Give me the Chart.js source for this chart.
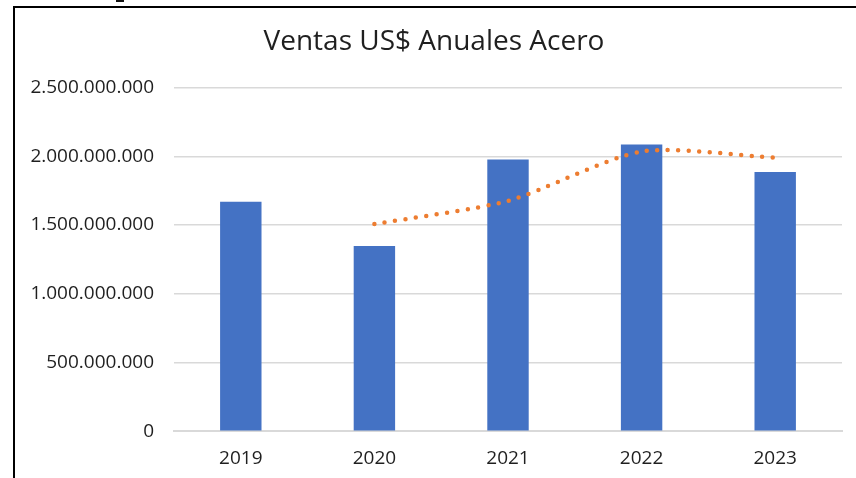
<!DOCTYPE html>
<html>
<head>
<meta charset="utf-8">
<script src="https://cdn.jsdelivr.net/npm/chart.js@4"></script>
<style>
  html, body { margin: 0; padding: 0; background: #fff; overflow: hidden; }
  #wrap { position: relative; width: 856px; height: 478px; }
  #frame { position: absolute; left: 13px; top: 6px; width: 900px; height: 500px; border-left: 2px solid #000; border-top: 2px solid #000; }
  #mark { position: absolute; left: 116px; top: 0; width: 8px; height: 2px; background: #111; }
  canvas { position: absolute; left: 0; top: 0; }
</style>
</head>
<body>
<div id="wrap">
  <div id="frame"></div>
  <div id="mark"></div>
  <canvas id="chart" width="856" height="478"></canvas>
</div>
<script>
// valores
var years = ['2019', '2020', '2021', '2022', '2023'];
var ventas = [1669000000, 1347000000, 1977000000, 2086000000, 1886000000];
// media movil (2 periodos) tal como se ve en la linea punteada
var tendencia = [null, 1507000000, 1676000000, 2035000000, 1990000000];
var yTicks = [0, 500000000, 1000000000, 1500000000, 2000000000, 2500000000];

function puntos(v) {
  return String(v).replace(/\B(?=(\d{3})+(?!\d))/g, '.');
}

new Chart(document.getElementById('chart'), {
  type: 'bar',
  data: {
    labels: years,
    datasets: [{
      type: 'line',
      data: tendencia,
      borderColor: '#ED7D31',
      borderWidth: 4.5,
      borderDash: [0, 10.5],
      borderCapStyle: 'round',
      pointRadius: 0,
      tension: 0.25,
      fill: false,
      order: 0
    }, {
      data: ventas,
      backgroundColor: '#4472C4',
      barPercentage: 0.31,
      categoryPercentage: 1,
      order: 1
    }]
  },
  options: {
    responsive: false,
    animation: false,
    layout: { padding: { left: 26, right: 14, top: 0, bottom: 0 } },
    plugins: {
      legend: { display: false },
      tooltip: { enabled: false },
      title: {
        display: true,
        text: 'Ventas US$ Anuales Acero',
        color: '#1f1f1f',
        font: { family: 'Open Sans', size: 28, weight: 'normal' },
        padding: { top: 25, bottom: 29 }
      }
    },
    scales: {
      x: {
        grid: { display: false },
        border: { color: '#d9d9d9', width: 2 },
        ticks: { color: '#1f1f1f', font: { family: 'Open Sans', size: 19 }, padding: 8 }
      },
      y: {
        min: 0,
        max: 2500000000,
        afterBuildTicks: function (scale) {
          scale.ticks = yTicks.map(function (v) { return { value: v }; });
        },
        afterFit: function (scale) { scale.width = 148; },
        grid: { color: '#d9d9d9', lineWidth: 1.5, drawTicks: false },
        border: { display: false },
        ticks: {
          color: '#1f1f1f',
          font: { family: 'Open Sans', size: 19 },
          padding: 20,
          callback: function (v) { return puntos(v); }
        }
      }
    }
  }
});
</script>
</body>
</html>
